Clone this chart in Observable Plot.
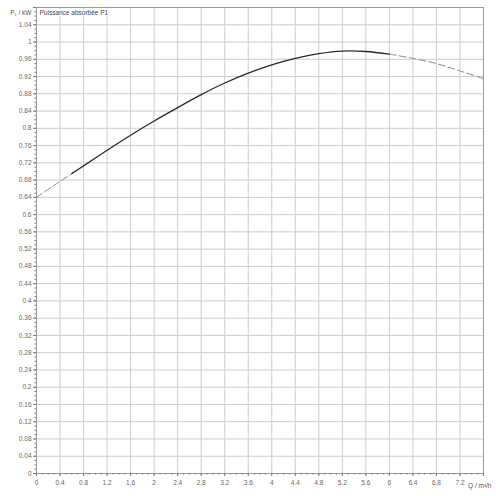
<!DOCTYPE html>
<html>
<head>
<meta charset="utf-8">
<script src="https://cdn.jsdelivr.net/npm/d3@7"></script>
<script src="https://cdn.jsdelivr.net/npm/@observablehq/plot@0.6"></script>
<style>
  html, body { margin: 0; padding: 0; background: #fff; }
</style>
</head>
<body>
<div id="chart"></div>
<script>
// Flow Q (m³/h) and absorbed power P1 (kW)
const qValues = [0, 0.4, 0.6, 0.8, 1.2, 1.6, 2.0, 2.4, 2.8, 3.2, 3.6, 4.0, 4.4, 4.8, 5.2, 5.6, 6.0, 6.4, 6.8, 7.2, 7.6];
const pValues = [0.640, 0.677, 0.695, 0.713, 0.749, 0.784, 0.817, 0.848, 0.878, 0.905, 0.928, 0.947, 0.962, 0.973, 0.979, 0.978, 0.972, 0.962, 0.950, 0.933, 0.915];
// Operating range drawn solid; outside it the curve is dashed
const solidRange = [0.6, 6.0];

const xMajor = d3.range(0, 20).map(i => +(i * 0.4).toFixed(1));      // 0 .. 7.6
const xMinor = d3.range(0, 77).map(i => +(i * 0.1).toFixed(1));      // 0 .. 7.6
const yMajor = d3.range(0, 28).map(i => +(i * 0.04).toFixed(2));     // 0 .. 1.08
const yMinor = d3.range(0, 109).map(i => +(i * 0.01).toFixed(2));    // 0 .. 1.08

const chartTitle = "Puissance absorbée P1";
const yLabel = "P₁ / kW";
const xLabel = "Q / m³/h";

const pts = qValues.map((q, i) => ({q, p: pValues[i]}));
const leftDash = pts.filter(d => d.q <= solidRange[0]);
const solid = pts.filter(d => d.q >= solidRange[0] && d.q <= solidRange[1]);
const rightDash = pts.filter(d => d.q >= solidRange[1]);

const fmt = d => String(+d.toFixed(2));

const chart = Plot.plot({
  width: 496,
  height: 496,
  marginLeft: 36,
  marginRight: 13,
  marginTop: 7,
  marginBottom: 23,
  style: {fontFamily: "Liberation Sans, Arial, sans-serif", fontSize: "6.5px", color: "#666", background: "#fff"},
  x: {domain: [0, 7.6]},
  y: {domain: [0, 1.08]},
  marks: [
    Plot.gridX(xMajor, {stroke: "#cccccc", strokeOpacity: 1}),
    Plot.gridY(yMajor, {stroke: "#cccccc", strokeOpacity: 1}),
    Plot.frame({stroke: "#9a9a9a"}),
    Plot.axisX(xMinor, {tickSize: 1.5, tickFormat: () => "", stroke: "#777", label: null}),
    Plot.axisX(xMajor, {tickSize: 3, tickPadding: 4, stroke: "#777", fill: "#666", label: null,
      tickFormat: d => d === 7.6 ? "" : fmt(d)}),
    Plot.axisY(yMinor, {tickSize: 1.5, tickFormat: () => "", stroke: "#777", label: null}),
    Plot.axisY(yMajor, {tickSize: 3, tickPadding: 2, stroke: "#777", fill: "#666", label: null,
      tickFormat: d => d === 1.08 ? "" : fmt(d)}),
    Plot.line(leftDash, {x: "q", y: "p", stroke: "#8a8a8a", strokeWidth: 1, strokeDasharray: "7,3", curve: "catmull-rom"}),
    Plot.line(rightDash, {x: "q", y: "p", stroke: "#8a8a8a", strokeWidth: 1, strokeDasharray: "7,3", curve: "catmull-rom"}),
    Plot.line(solid, {x: "q", y: "p", stroke: "#2a2a2a", strokeWidth: 1.3, curve: "catmull-rom"}),
    Plot.text([chartTitle], {frameAnchor: "top-left", dx: 3, dy: 3, textAnchor: "start", lineAnchor: "top",
      fill: "#444", stroke: "#fff", strokeWidth: 3, fontSize: 6.5}),
    Plot.text([yLabel], {frameAnchor: "top-left", dx: -5, dy: 3, textAnchor: "end", lineAnchor: "top",
      fill: "#555", fontSize: 6.5}),
    Plot.text([xLabel], {frameAnchor: "bottom-right", dx: 8, dy: 12, textAnchor: "end", lineAnchor: "middle",
      fill: "#555", fontSize: 6.5})
  ]
});
document.getElementById("chart").appendChild(chart);
</script>
</body>
</html>
